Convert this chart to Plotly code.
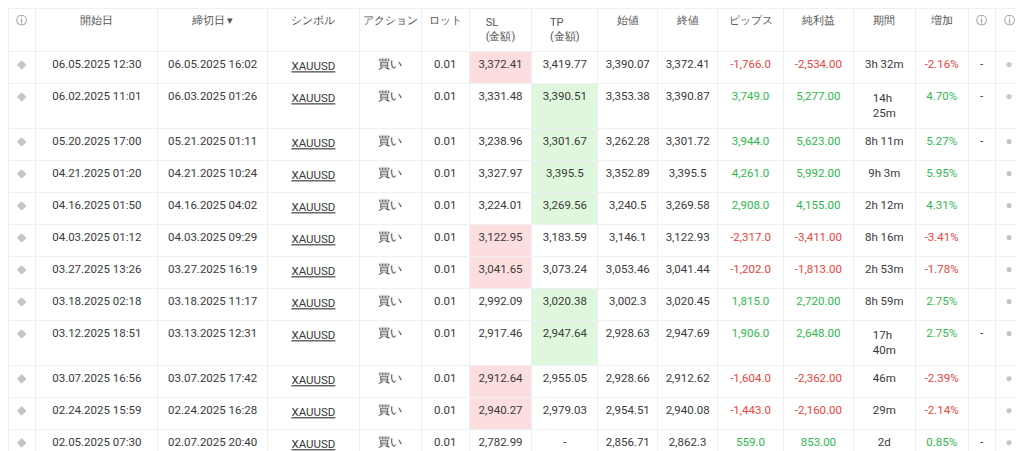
import plotly.graph_objects as go

headers = ["ⓘ", "開始日", "締切日 ▾", "シンボル", "アクション", "ロット", "SL<br>(金額)", "TP<br>(金額)",
           "始値", "終値", "ピップス", "純利益", "期間", "増加", "ⓘ", "ⓘ"]
open_dates = ["06.05.2025 12:30", "06.02.2025 11:01", "05.20.2025 17:00", "04.21.2025 01:20",
              "04.16.2025 01:50", "04.03.2025 01:12", "03.27.2025 13:26", "03.18.2025 02:18",
              "03.12.2025 18:51", "03.07.2025 16:56", "02.24.2025 15:59", "02.05.2025 07:30"]
close_dates = ["06.05.2025 16:02", "06.03.2025 01:26", "05.21.2025 01:11", "04.21.2025 10:24",
               "04.16.2025 04:02", "04.03.2025 09:29", "03.27.2025 16:19", "03.18.2025 11:17",
               "03.13.2025 12:31", "03.07.2025 17:42", "02.24.2025 16:28", "02.07.2025 20:40"]
sl = ["3,372.41", "3,331.48", "3,238.96", "3,327.97", "3,224.01", "3,122.95", "3,041.65",
      "2,992.09", "2,917.46", "2,912.64", "2,940.27", "2,782.99"]
tp = ["3,419.77", "3,390.51", "3,301.67", "3,395.5", "3,269.56", "3,183.59", "3,073.24",
      "3,020.38", "2,947.64", "2,955.05", "2,979.03", "-"]
open_px = ["3,390.07", "3,353.38", "3,262.28", "3,352.89", "3,240.5", "3,146.1", "3,053.46",
           "3,002.3", "2,928.63", "2,928.66", "2,954.51", "2,856.71"]
close_px = ["3,372.41", "3,390.87", "3,301.72", "3,395.5", "3,269.58", "3,122.93", "3,041.44",
            "3,020.45", "2,947.69", "2,912.62", "2,940.08", "2,862.3"]
pips = ["-1,766.0", "3,749.0", "3,944.0", "4,261.0", "2,908.0", "-2,317.0", "-1,202.0",
        "1,815.0", "1,906.0", "-1,604.0", "-1,443.0", "559.0"]
profit = ["-2,534.00", "5,277.00", "5,623.00", "5,992.00", "4,155.00", "-3,411.00", "-1,813.00",
          "2,720.00", "2,648.00", "-2,362.00", "-2,160.00", "853.00"]
duration = ["3h 32m", "14h 25m", "8h 11m", "9h 3m", "2h 12m", "8h 16m", "2h 53m",
            "8h 59m", "17h 40m", "46m", "29m", "2d"]
gain = ["-2.16%", "4.70%", "5.27%", "5.95%", "4.31%", "-3.41%", "-1.78%",
        "2.75%", "2.75%", "-2.39%", "-2.14%", "0.85%"]
extra = ["-", "-", "-", "", "", "", "", "", "-", "", "", "-"]
sl_hit = [True, False, False, False, False, True, True, False, False, True, True, False]
tp_hit = [False, True, True, True, True, False, False, True, True, False, False, False]
deposit_date = "02.04.2025 21:21"
deposit_label = "デポジット"
deposit_amount = "100,000.00"

n = len(open_dates)
RED, GREEN, TXT, ORANGE = "#f0433a", "#2fb84f", "#3a3a3a", "#f5a623"

def sign_col(vals):
    return [RED if v.startswith("-") else GREEN for v in vals] + [GREEN]

cols = [
    ["◆"] * (n + 1),
    open_dates + [deposit_date],
    close_dates + [""],
    ["<u>XAUUSD</u>"] * n + [""],
    ["買い"] * n + [deposit_label],
    ["0.01"] * n + [""],
    sl + [""], tp + [""], open_px + [""], close_px + [""],
    pips + [""], profit + [deposit_amount], duration + [""], gain + [""],
    extra + [""], ["●"] * (n + 1),
]

white = ["#ffffff"] * (n + 1)
fills = [white] * 16
fills[6] = ["#fddede" if h else "#ffffff" for h in sl_hit] + ["#ffffff"]
fills[7] = ["#dff7dc" if h else "#ffffff" for h in tp_hit] + ["#ffffff"]

fcolors = [[TXT] * (n + 1) for _ in range(16)]
fcolors[0] = ["#c4c4c4"] * (n + 1)
fcolors[15] = ["#c4c4c4"] * (n + 1)
fcolors[1] = [TXT] * n + [ORANGE]
fcolors[4] = [TXT] * n + [ORANGE]
fcolors[10] = sign_col(pips)
fcolors[11] = sign_col(profit)
fcolors[13] = sign_col(gain)

widths = [28, 122, 110, 92, 62, 48, 63, 66, 60, 60, 66, 70, 62, 53, 27, 28]

fig = go.Figure(go.Table(
    columnwidth=widths,
    header=dict(values=headers, height=34, align="center",
                fill_color="#ffffff", line=dict(color="#eef0f3", width=1),
                font=dict(family="Roboto", size=11, color=["#777"] + ["#555"] * 13 + ["#777", "#777"])),
    cells=dict(values=cols, height=32, align="center",
               fill_color=fills, line=dict(color="#eef0f3", width=1),
               font=dict(family="Roboto", size=11.5, color=fcolors)),
))
fig.update_layout(width=1024, height=451, margin=dict(l=0, r=9, t=0, b=4),
                  paper_bgcolor="#ffffff")
fig.add_shape(type="rect", xref="paper", yref="paper", x0=-0.01, x1=1.02, y0=-0.02, y1=-0.0,
              fillcolor="#222", line_width=0)
fig.write_html("out.html")
